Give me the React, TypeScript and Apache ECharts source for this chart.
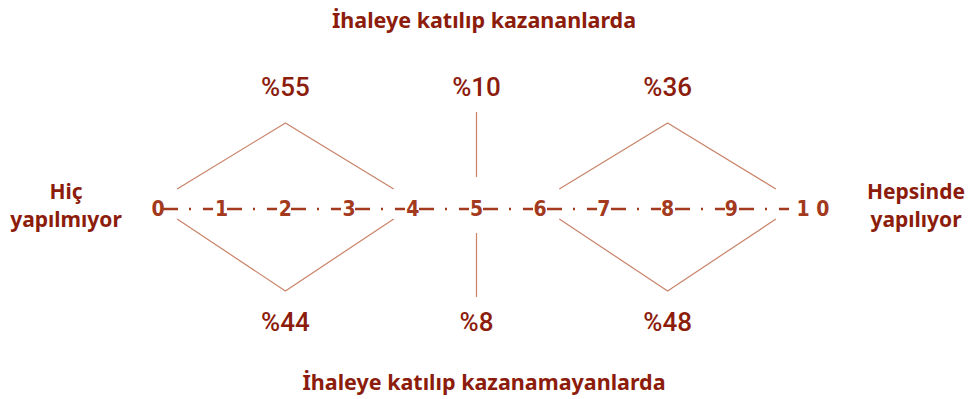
import React, { useEffect, useRef } from "react";
import * as echarts from "echarts";

const scaleTicks = [0, 1, 2, 3, 4, 5, 6, 7, 8, 9, 10];
const tickLabels = ["0", "1", "2", "3", "4", "5", "6", "7", "8", "9", "1 0"];
const groupFrom = [0, 5, 6];
const groupTo = [4, 5, 10];
const topShares = [55, 10, 36];
const bottomShares = [44, 8, 48];
const topTitle = "İhaleye katılıp kazananlarda";
const bottomTitle = "İhaleye katılıp kazanamayanlarda";
const leftLabel = ["Hiç", "yapılmıyor"];
const rightLabel = ["Hepsinde", "yapılıyor"];

const TEXT = "#8c1c0b";
const SCALE = "#a33a1e";
const LINE = "#c98268";

export default function App() {
  const ref = useRef<HTMLDivElement>(null);
  useEffect(() => {
    document.body.style.margin = "0";
    const chart = echarts.init(ref.current!, null, { renderer: "svg" });
    const inset = 0.3;
    const bracketSeries: any[] = [];
    const topLabels: any[] = [];
    const bottomLabels: any[] = [];
    groupFrom.forEach((from, i) => {
      const to = groupTo[i];
      const mid = (from + to) / 2;
      let up: number[][];
      let down: number[][];
      if (from === to) {
        up = [[mid, 32], [mid, 97]];
        down = [[mid, -24], [mid, -88]];
      } else {
        up = [[from + inset, 20], [mid, 86], [to - inset, 20]];
        down = [[from + inset, -10], [mid, -82], [to - inset, -10]];
      }
      [up, down].forEach((d) =>
        bracketSeries.push({
          type: "line",
          data: d,
          symbol: "none",
          silent: true,
          lineStyle: { color: LINE, width: 1.2 },
        })
      );
      topLabels.push({ value: [mid, 122], share: topShares[i] });
      bottomLabels.push({ value: [mid, -113], share: bottomShares[i] });
    });

    const pctLabel = {
      show: true,
      position: "inside",
      formatter: (p: any) => "%" + p.data.share,
      color: TEXT,
      textBorderWidth: 0,
      fontFamily: "Roboto, sans-serif",
      fontSize: 26,
      fontWeight: 500,
    };

    const plainText = (text: string, x: number, y: number, size: number) => ({
      type: "text",
      x,
      y,
      style: {
        text,
        fill: TEXT,
        font: `bold ${size}px 'Noto Sans', sans-serif`,
        align: "center",
        verticalAlign: "middle",
      },
    });

    const hiddenSymbol = { color: "rgba(0,0,0,0)", opacity: 1 };

    chart.setOption({
      animation: false,
      grid: { left: 158, right: 177, top: 0, bottom: 0 },
      xAxis: { type: "value", min: 0, max: 10, show: false },
      yAxis: { type: "value", min: -190, max: 209, show: false },
      graphic: [
        plainText(topTitle, 484, 19, 21.5),
        plainText(bottomTitle, 484, 381, 21.5),
        plainText(leftLabel[0], 66, 191, 21),
        plainText(leftLabel[1], 66, 219, 21),
        plainText(rightLabel[0], 916, 191, 21),
        plainText(rightLabel[1], 916, 219, 21),
      ],
      series: [
        {
          type: "line",
          data: [[scaleTicks[0], 0], [scaleTicks[scaleTicks.length - 1], 0]],
          symbol: "none",
          silent: true,
          lineStyle: {
            color: SCALE,
            width: 2.5,
            type: [0, 5, 15, 11, 2, 12, 10, 9],
            cap: "butt",
          },
        },
        ...bracketSeries,
        {
          type: "scatter",
          data: scaleTicks.map((t, i) => ({
            value: [t, 0],
            label: i === scaleTicks.length - 1 ? { offset: [18, 0] } : undefined,
          })),
          symbolSize: 1,
          itemStyle: hiddenSymbol,
          silent: true,
          label: {
            show: true,
            position: "inside",
            formatter: (p: any) => tickLabels[p.dataIndex],
            color: SCALE,
            textBorderWidth: 0,
            fontFamily: "'Liberation Sans Narrow', 'DejaVu Sans Condensed', sans-serif",
            fontWeight: "bold",
            fontSize: 21,
          },
        },
        {
          type: "scatter",
          data: topLabels,
          symbolSize: 1,
          itemStyle: hiddenSymbol,
          silent: true,
          label: pctLabel,
        },
        {
          type: "scatter",
          data: bottomLabels,
          symbolSize: 1,
          itemStyle: hiddenSymbol,
          silent: true,
          label: pctLabel,
        },
      ],
    });
    return () => chart.dispose();
  }, []);
  return <div ref={ref} style={{ width: 972, height: 399 }} />;
}
